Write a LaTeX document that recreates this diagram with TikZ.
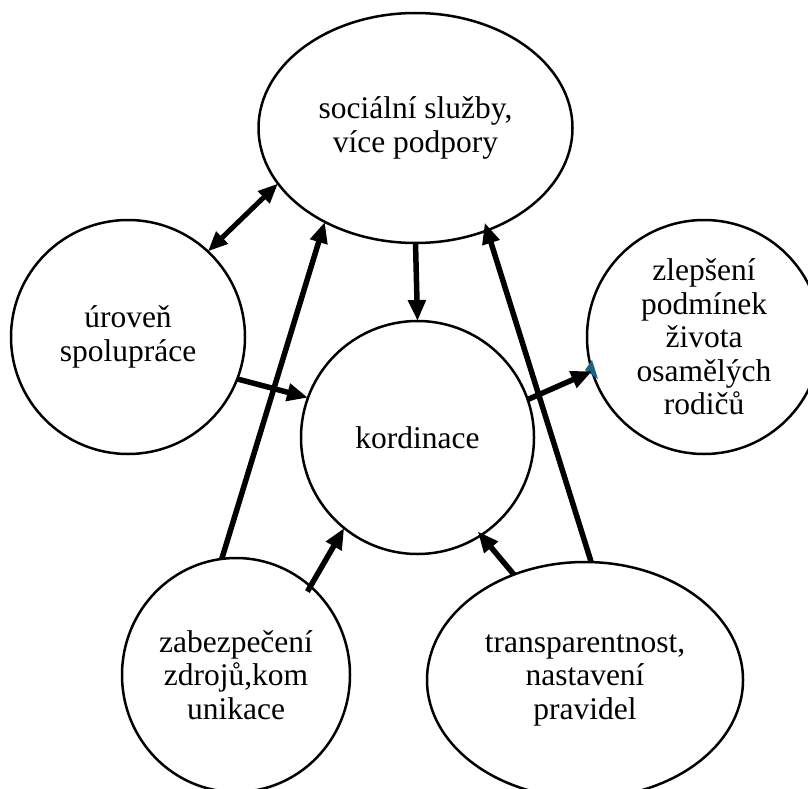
\documentclass[tikz,border=0pt]{standalone}
\usepackage{fontspec}
\setmainfont{Liberation Serif}
\usetikzlibrary{shapes.geometric,arrows.meta,calc}
\definecolor{tipblue}{RGB}{31,100,135}
\begin{document}
\begin{tikzpicture}[x=1pt,y=-1pt,
  bubble/.style={draw, ellipse, line width=2.5pt, inner sep=0pt, outer sep=0pt,
    align=center, font=\fontsize{31.5}{33.5}\selectfont},
  link/.style={line width=5.5pt, -{Triangle[length=21pt,width=17pt]}},
  twoway/.style={line width=5pt,
    {Triangle[length=20pt,width=16pt]}-{Triangle[length=20pt,width=16pt]}}]
\clip (0,0) rectangle (808,789);

% the six bubbles
\node[bubble, minimum width=314pt, minimum height=230pt] (soc) at (415.5,128)
  {sociální služby,\\více podpory};
\node[bubble, minimum width=234pt, minimum height=234pt] (urov) at (128,337)
  {úroveň\\spolupráce};
\node[bubble, minimum width=233pt, minimum height=233pt] (kord) at (417.5,437.5)
  {kordinace};
\node[bubble, minimum width=234pt, minimum height=234pt] (zlep) at (704,337)
  {zlepšení\\podmínek\\života\\osamělých\\rodičů};
\node[bubble, minimum width=228pt, minimum height=234pt] (zab) at (236,675)
  {zabezpečení\\zdrojů,kom\\unikace};
\node[bubble, minimum width=316pt, minimum height=236pt] (tra) at (585,680)
  {transparentnost,\\nastavení\\pravidel};

% small coloured tip behind the outgoing arrow
\fill[tipblue] ($(zlep.center)+(-119,33)$) -- ($(zlep.center)+(-112,23)$)
  -- ($(zlep.center)+(-106,42)$) -- cycle;

% connectors
\draw[twoway] (urov.47.8) -- (soc.202.1);
\draw[link] (soc.south) -- (kord.north);
\draw[link] (urov.339.9) -- (kord.160.6);
\draw[link] (zab.97.8) -- (soc.226);
\draw[link, shorten <=-6pt] (zab.50.9) -- (kord.231);
\draw[link, shorten >=-8pt] (tra.87.6) -- (soc.305.2);
\draw[link, shorten >=-5pt] (tra.124.2) -- (kord.303.6);
\draw[link] (kord.19.7) -- (zlep.197.8);
\end{tikzpicture}
\end{document}
